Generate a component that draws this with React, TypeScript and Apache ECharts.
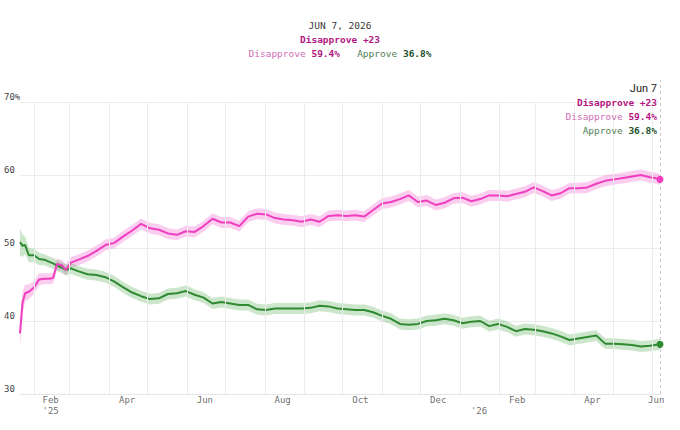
import React, { useEffect, useRef } from 'react';
import * as echarts from 'echarts';

const dates = [
  '2025-01-21', '2025-01-23', '2025-01-25', '2025-01-28', '2025-02-01', '2025-02-05', '2025-02-09', '2025-02-13',
  '2025-02-16', '2025-02-19', '2025-02-23', '2025-02-26', '2025-03-02', '2025-03-08', '2025-03-15', '2025-03-22',
  '2025-03-29', '2025-04-05', '2025-04-12', '2025-04-19', '2025-04-26', '2025-05-03', '2025-05-10', '2025-05-17',
  '2025-05-24', '2025-05-31', '2025-06-07', '2025-06-14', '2025-06-21', '2025-06-28', '2025-07-05', '2025-07-12',
  '2025-07-19', '2025-07-26', '2025-08-02', '2025-08-09', '2025-08-16', '2025-08-23', '2025-08-30', '2025-09-06',
  '2025-09-13', '2025-09-20', '2025-09-27', '2025-10-04', '2025-10-11', '2025-10-18', '2025-10-25', '2025-11-01',
  '2025-11-08', '2025-11-15', '2025-11-22', '2025-11-29', '2025-12-06', '2025-12-13', '2025-12-20', '2025-12-27',
  '2026-01-03', '2026-01-10', '2026-01-17', '2026-01-24', '2026-01-31', '2026-02-07', '2026-02-14', '2026-02-21',
  '2026-02-28', '2026-03-07', '2026-03-14', '2026-03-21', '2026-03-28', '2026-04-04', '2026-04-11', '2026-04-18',
  '2026-04-25', '2026-05-02', '2026-05-09', '2026-05-16', '2026-05-23', '2026-05-30', '2026-06-03', '2026-06-07',
];

const disapprove = [
  38.3, 42.5, 43.8, 44.0, 44.6, 45.7, 45.8, 45.8, 45.9, 47.8,
  47.6, 47.0, 48.0, 48.4, 48.9, 49.6, 50.4, 50.7, 51.6, 52.4,
  53.3, 52.7, 52.5, 52.0, 51.8, 52.3, 52.2, 53.0, 54.0, 53.5,
  53.5, 53.0, 54.3, 54.7, 54.6, 54.1, 53.9, 53.8, 53.6, 53.9,
  53.6, 54.4, 54.5, 54.4, 54.5, 54.3, 55.2, 56.1, 56.3, 56.7,
  57.2, 56.3, 56.5, 55.9, 56.2, 56.8, 56.9, 56.4, 56.7, 57.2,
  57.2, 57.1, 57.4, 57.7, 58.3, 57.8, 57.2, 57.5, 58.2, 58.2,
  58.3, 58.8, 59.2, 59.4, 59.6, 59.8, 60.0, 59.7, 59.6, 59.4,
];

const approve = [
  50.8, 50.3, 50.4, 49.0, 49.0, 48.5, 48.4, 48.1, 47.9, 47.6,
  47.3, 47.0, 47.2, 46.8, 46.4, 46.3, 46.0, 45.4, 44.6, 43.9,
  43.4, 43.0, 43.1, 43.7, 43.8, 44.1, 43.6, 43.2, 42.4, 42.6,
  42.4, 42.2, 42.2, 41.6, 41.5, 41.7, 41.7, 41.7, 41.7, 41.8,
  42.1, 42.0, 41.7, 41.6, 41.5, 41.5, 41.2, 40.7, 40.3, 39.6,
  39.5, 39.6, 40.0, 40.1, 40.3, 40.1, 39.7, 39.9, 40.0, 39.3,
  39.6, 39.2, 38.6, 38.9, 38.8, 38.6, 38.3, 37.9, 37.4, 37.6,
  37.8, 38.0, 36.9, 36.9, 36.8, 36.7, 36.5, 36.6, 36.7, 36.8,
];

// half-width of the uncertainty band (wider at the start)
const bandStart = [1.9, 1.5, 1.2, 1.0, 0.9, 0.85];
const bandDefault = 0.75;

const monthTicks = [
  '2025-02-01', '2025-03-01', '2025-04-01', '2025-05-01', '2025-06-01', '2025-07-01', '2025-08-01', '2025-09-01',
  '2025-10-01', '2025-11-01', '2025-12-01', '2026-01-01', '2026-02-01', '2026-03-01', '2026-04-01', '2026-05-01',
  '2026-06-01',
];
const labelDates = [
  '2025-02-14', '2025-04-15', '2025-06-15', '2025-08-15', '2025-10-15', '2025-12-15', '2026-01-16', '2026-02-15',
  '2026-04-15', '2026-06-04',
];
const labelTexts = ["Feb\n'25", 'Apr', 'Jun', 'Aug', 'Oct', 'Dec', "\n'26", 'Feb', 'Apr', 'Jun'];

const yTicks = { min: 30, max: 70, interval: 10 };
const xStart = '2025-01-21';
const monthNames = ['Jan', 'Feb', 'Mar', 'Apr', 'May', 'Jun', 'Jul', 'Aug', 'Sep', 'Oct', 'Nov', 'Dec'];

const PINK = '#ef3fbf';
const PINK_BAND = 'rgba(242, 80, 200, 0.28)';
const GREEN = '#2f8a31';
const GREEN_BAND = 'rgba(70, 165, 70, 0.28)';
const MAG_DARK = '#b3177f';
const MAG_LIGHT = '#cf6db5';
const GRN_LIGHT = '#4f7d52';
const GRN_DARK = '#21502a';
const GRID_COLOR = '#ececec';
const MONO = '"DejaVu Sans Mono", "Liberation Mono", monospace';

export default function App() {
  const ref = useRef<HTMLDivElement>(null);

  useEffect(() => {
    if (!ref.current) return;
    const chart = echarts.init(ref.current, null, { renderer: 'svg' });

    const hw = (i: number) => (i < bandStart.length ? bandStart[i] : bandDefault);
    const last = dates.length - 1;
    const lastDate = dates[last];
    const [yy, mm, dd] = lastDate.split('-').map(Number);
    const mName = monthNames[mm - 1];
    const dVal = disapprove[last];
    const aVal = approve[last];
    const lead = Math.round(dVal - aVal);
    const headerDate = `${mName.toUpperCase()} ${dd}, ${yy}`;
    const shortDate = `${mName} ${dd}`;

    const mk = (align: string) => ({
      b: { fontFamily: MONO, fontSize: 9.5, fontWeight: 'bold', color: MAG_DARK, lineHeight: 14, align },
      pl: { fontFamily: MONO, fontSize: 9.5, fontWeight: 'normal', color: MAG_LIGHT, lineHeight: 14, align },
      pv: { fontFamily: MONO, fontSize: 9.5, fontWeight: 'bold', color: MAG_DARK, lineHeight: 14, align },
      gl: { fontFamily: MONO, fontSize: 9.5, fontWeight: 'normal', color: GRN_LIGHT, lineHeight: 14, align },
      gv: { fontFamily: MONO, fontSize: 9.5, fontWeight: 'bold', color: GRN_DARK, lineHeight: 14, align },
    });

    const band = (vals: number[]) => dates.map((d, i) => [d, vals[i] - hw(i)]);
    const bandDiff = () => dates.map((d, i) => [d, 2 * hw(i)]);

    const bandSeries = (name: string, vals: number[], color: string) => [
      {
        type: 'line', name: name + 'Low', stack: name, data: band(vals), symbol: 'none', silent: true,
        lineStyle: { opacity: 0 }, z: 1,
      },
      {
        type: 'line', name: name + 'High', stack: name, data: bandDiff(), symbol: 'none', silent: true,
        lineStyle: { opacity: 0 }, areaStyle: { color, opacity: 1 }, z: 1,
      },
    ];

    const dStr = dVal.toFixed(1) + '%';
    const aStr = aVal.toFixed(1) + '%';

    const option: any = {
      animation: false,
      backgroundColor: '#ffffff',
      title: [
        {
          left: 'center', top: 18, padding: 0,
          text: `{d|${headerDate}}\n{b|Disapprove +${lead}}\n{pl|Disapprove }{pv|${dStr}}{pl|   }{gl|Approve }{gv|${aStr}}`,
          textStyle: {
            fontFamily: MONO, fontSize: 9.5, fontWeight: 'normal', lineHeight: 14,
            rich: {
              ...mk('center'),
              d: { fontFamily: MONO, fontSize: 9.5, fontWeight: 'normal', color: '#3a3a3a', lineHeight: 14 },
            },
          },
        },
        {
          right: 23, top: 81, padding: 0,
          text: `{d|${shortDate}}\n{b|Disapprove +${lead}}\n{pl|Disapprove }{pv|${dStr}}\n{gl|Approve }{gv|${aStr}}`,
          textStyle: {
            fontFamily: MONO, fontSize: 9.5, fontWeight: 'normal', lineHeight: 14,
            rich: {
              ...mk('right'),
              d: {
                fontFamily: 'Roboto, sans-serif', fontSize: 11, fontWeight: 'normal', color: '#222',
                lineHeight: 14, align: 'right',
              },
            },
          },
        },
      ],
      grid: [
        { left: 20, right: 20, top: 102, bottom: 36 },
        { left: 20, right: 20, top: 80, bottom: 36 },
      ],
      xAxis: [
        {
          type: 'time', gridIndex: 0, min: xStart, max: lastDate,
          axisLine: { show: true, lineStyle: { color: '#e6e6e6' } },
          axisTick: { show: false },
          splitLine: { show: false },
          axisLabel: { show: false },
        },
        {
          type: 'time', gridIndex: 1, min: xStart, max: lastDate, show: false,
        },
      ],
      yAxis: [
        {
          type: 'value', gridIndex: 0, min: yTicks.min, max: yTicks.max, interval: yTicks.interval,
          axisLine: { show: false }, axisTick: { show: false },
          splitLine: { show: true, lineStyle: { color: GRID_COLOR, width: 1 } },
          axisLabel: {
            formatter: (v: number) => (v === yTicks.max ? `${v}%` : `${v}`),
            align: 'left', verticalAlign: 'bottom', margin: 16, padding: [0, 0, 1, 0],
            fontFamily: MONO, fontSize: 9, color: '#444',
          },
        },
        {
          type: 'value', gridIndex: 1, min: yTicks.min, max: 73, show: false,
        },
      ],
      series: [
        // monthly vertical grid lines
        {
          type: 'line', data: [], symbol: 'none', silent: true, z: 0,
          markLine: {
            silent: true, symbol: ['none', 'none'], label: { show: false },
            lineStyle: { type: 'solid', color: GRID_COLOR, width: 1 },
            emphasis: { disabled: true },
            data: monthTicks.map((d) => ({ xAxis: d })),
          },
        },
        ...bandSeries('pinkBand', disapprove, PINK_BAND),
        ...bandSeries('greenBand', approve, GREEN_BAND),
        {
          type: 'line', name: 'Approve', data: dates.map((d, i) => [d, approve[i]]), symbol: 'none',
          lineStyle: { color: GREEN, width: 2 }, itemStyle: { color: GREEN }, z: 3,
        },
        {
          type: 'line', name: 'Disapprove', data: dates.map((d, i) => [d, disapprove[i]]), symbol: 'none',
          lineStyle: { color: PINK, width: 2 }, itemStyle: { color: PINK }, z: 3,
        },
        {
          type: 'scatter', data: [[lastDate, dVal]], symbolSize: 7, clip: false,
          itemStyle: { color: PINK, opacity: 1 }, z: 6, silent: true,
        },
        {
          type: 'scatter', data: [[lastDate, aVal]], symbolSize: 7, clip: false,
          itemStyle: { color: GREEN, opacity: 1 }, z: 6, silent: true,
        },
        // x-axis labels (mid-month)
        {
          type: 'scatter', clip: false, silent: true, z: 5,
          data: labelDates.map((d) => [d, yTicks.min]),
          symbolSize: 1, itemStyle: { color: 'rgba(0,0,0,0)' },
          label: {
            show: true, position: 'bottom', distance: 0,
            formatter: (p: any) => labelTexts[p.dataIndex],
            fontFamily: MONO, fontSize: 9, color: '#444', lineHeight: 11,
          },
        },
        // dashed "today" line
        {
          type: 'line', xAxisIndex: 1, yAxisIndex: 1, data: [], symbol: 'none', silent: true, z: 2,
          markLine: {
            silent: true, symbol: ['none', 'none'], label: { show: false },
            lineStyle: { type: [3, 3], color: '#c9c9c9', width: 1 },
            data: [{ xAxis: lastDate }],
          },
        },
      ],
    };

    chart.setOption(option);
    return () => chart.dispose();
  }, []);

  return (
    <div
      ref={ref}
      style={{ position: 'fixed', left: 0, top: 0, width: 680, height: 430, background: '#fff' }}
    />
  );
}
